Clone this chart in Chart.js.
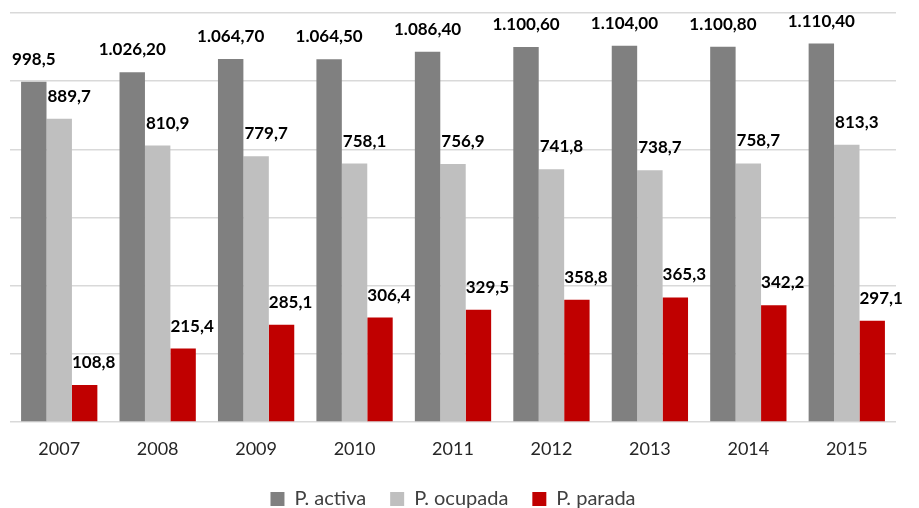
<!DOCTYPE html>
<html>
<head>
<meta charset="utf-8">
<script src="https://cdn.jsdelivr.net/npm/chart.js@4"></script>
<style>
  body { margin: 0; background: #fff; }
  #wrap { width: 919px; height: 508px; }
</style>
</head>
<body>
<div id="wrap"><canvas id="myChart"></canvas></div>
<script>
const years = ["2007", "2008", "2009", "2010", "2011", "2012", "2013", "2014", "2015"];
const activa = [998.5, 1026.2, 1064.7, 1064.5, 1086.4, 1100.6, 1104.0, 1100.8, 1110.4];
const ocupada = [889.7, 810.9, 779.7, 758.1, 756.9, 741.8, 738.7, 758.7, 813.3];
const parada = [108.8, 215.4, 285.1, 306.4, 329.5, 358.8, 365.3, 342.2, 297.1];

// spanish style numbers: 998,5 / 1.026,20
function formatValue(v) {
  if (v < 1000) return v.toFixed(1).replace(".", ",");
  const parts = v.toFixed(2).split(".");
  return parts[0].replace(/\B(?=(\d{3})+(?!\d))/g, ".") + "," + parts[1];
}

// draws the value above each bar
const valueLabels = {
  id: "valueLabels",
  afterDatasetsDraw(chart, args, opts) {
    const ctx = chart.ctx;
    ctx.save();
    ctx.font = "bold 17px Lato";
    ctx.fillStyle = "#000";
    ctx.textAlign = "center";
    ctx.textBaseline = "alphabetic";
    chart.data.datasets.forEach((ds, i) => {
      chart.getDatasetMeta(i).data.forEach((bar, j) => {
        ctx.fillText(formatValue(ds.data[j]), bar.x + opts.shift[i], bar.y - opts.gap);
      });
    });
    ctx.restore();
  }
};

const myChartRef = document.getElementById("myChart").getContext("2d");

new Chart(myChartRef, {
  type: "bar",
  data: {
    labels: years,
    datasets: [
      { label: "P. activa", data: activa, backgroundColor: "#808080" },
      { label: "P. ocupada", data: ocupada, backgroundColor: "#BFBFBF" },
      { label: "P. parada", data: parada, backgroundColor: "#C00000" }
    ]
  },
  options: {
    responsive: true,
    maintainAspectRatio: false,
    animation: false,
    // legend sits low, its text is cut at the bottom edge like the original
    layout: { padding: { top: 13, left: 10, right: 23, bottom: -11 } },
    datasets: {
      bar: { categoryPercentage: 0.775, barPercentage: 1.0 }
    },
    scales: {
      x: {
        grid: { display: false, drawTicks: false },
        border: { display: false },
        ticks: { padding: 16, color: "#262626", font: { family: "Lato", size: 18 } },
        afterFit(scale) { scale.height = 43; }
      },
      y: {
        min: 0,
        max: 1200,
        ticks: { display: false, stepSize: 200 },
        border: { display: false },
        grid: { color: "#D9D9D9", lineWidth: 1.5, drawTicks: false },
        afterFit(scale) { scale.width = 0; }
      }
    },
    plugins: {
      legend: {
        position: "bottom",
        labels: {
          boxWidth: 14,
          boxHeight: 14,
          padding: 24,
          color: "#404040",
          font: { family: "Lato", size: 20 }
        }
      },
      tooltip: { enabled: false },
      valueLabels: { gap: 17, shift: [0, 10, 9] }
    }
  },
  plugins: [valueLabels]
});
</script>
</body>
</html>
